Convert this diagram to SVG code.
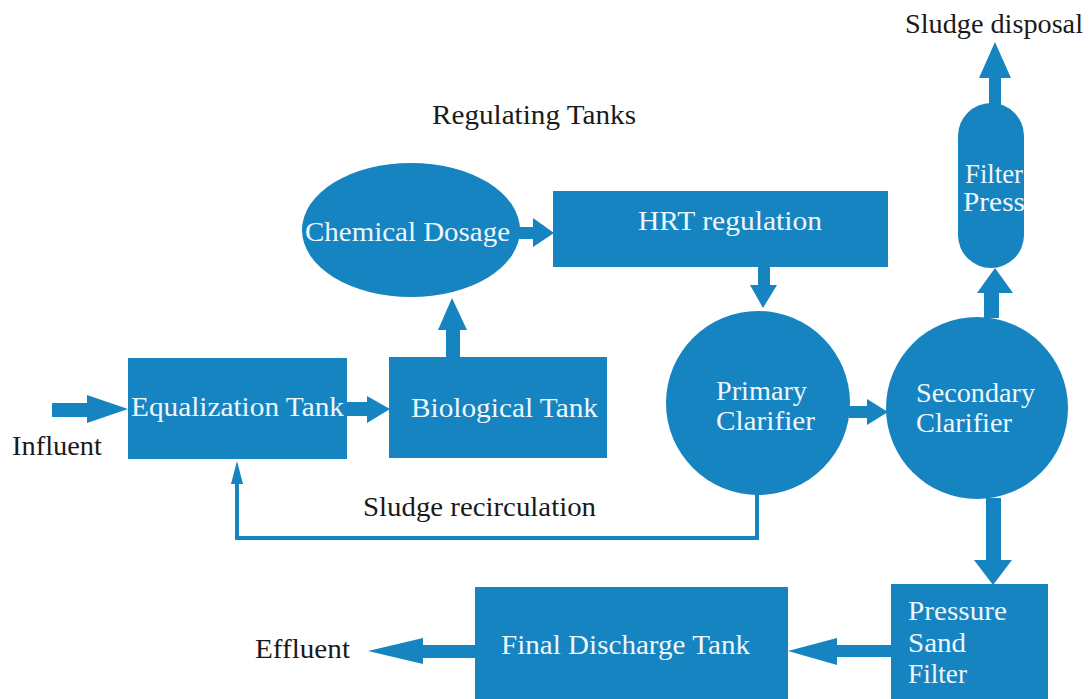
<svg xmlns="http://www.w3.org/2000/svg" width="1089" height="699" viewBox="0 0 1089 699">
<style>
.n{fill:#1684c1}
.a{fill:#1684c1}
.t{font-family:"Liberation Serif",Tinos,"DejaVu Serif","Noto Serif",serif;font-size:27px}
.w{fill:#eef7fb}
.b{fill:#1a1a1a}
.l{fill:none;stroke:#1684c1;stroke-width:4}
</style>
<rect width="1089" height="699" fill="#ffffff"/>
<g id="connectors">
<polygon class="a" points="52,403 87,403 87,395 128,409 87,423 87,417 52,417"/>
<polygon class="a" points="347,402 367,402 367,396 390,409 367,423 367,416 347,416"/>
<polygon class="a" points="446,357 446,330 438,330 452,298 467,330 460,330 460,357"/>
<polygon class="a" points="518,227 533,227 533,218 554,233 533,247 533,239 518,239"/>
<polygon class="a" points="758,267 770,267 770,285 777,285 763,308 750,285 758,285"/>
<polygon class="a" points="849,406 867,406 867,399 888,412 867,425 867,418 849,418"/>
<polygon class="a" points="984,318 984,293 977,293 995,268 1013,293 999,293 999,318"/>
<polygon class="a" points="989,106 989,78 979,78 995,42 1011,78 1001,78 1001,106"/>
<polygon class="a" points="986,498 1001,498 1001,560 1012,560 993,585 974,560 986,560"/>
<polygon class="a" points="892,645 837,645 837,638 788,651 837,665 837,657 892,657"/>
<polygon class="a" points="476,645 423,645 423,638 368,651 423,664 423,658 476,658"/>
<polyline class="l" points="757,490 757,538 237,538 237,482"/>
<polygon class="a" points="237,461 243,484 231,484"/>
</g>
<g id="equalization">
<rect class="n" x="128" y="358" width="219" height="101"/>
<text class="t w" font-family="Liberation Serif, serif" x="131" y="416" textLength="213" lengthAdjust="spacingAndGlyphs">Equalization Tank</text>
</g>
<g id="biological">
<rect class="n" x="389" y="357" width="218" height="101"/>
<text class="t w" x="411" y="417" textLength="187" lengthAdjust="spacingAndGlyphs">Biological Tank</text>
</g>
<g id="chemical">
<ellipse class="n" cx="411" cy="230" rx="109" ry="67"/>
<text class="t w" x="305" y="241" textLength="205" lengthAdjust="spacingAndGlyphs">Chemical Dosage</text>
</g>
<g id="hrt">
<rect class="n" x="553" y="191" width="335" height="76"/>
<text class="t w" x="638" y="230" textLength="184" lengthAdjust="spacingAndGlyphs">HRT regulation</text>
</g>
<g id="primary">
<circle class="n" cx="758" cy="403" r="92"/>
<text class="t w" x="716" y="400" textLength="91" lengthAdjust="spacingAndGlyphs">Primary</text>
<text class="t w" x="716" y="430" textLength="99" lengthAdjust="spacingAndGlyphs">Clarifier</text>
</g>
<g id="secondary">
<circle class="n" cx="977" cy="408" r="91"/>
<text class="t w" x="916" y="402" textLength="119" lengthAdjust="spacingAndGlyphs">Secondary</text>
<text class="t w" x="916" y="432" textLength="96" lengthAdjust="spacingAndGlyphs">Clarifier</text>
</g>
<g id="filterpress">
<rect class="n" x="958" y="103" width="66" height="165" rx="33" ry="33"/>
<text class="t w" x="965" y="183" textLength="58" lengthAdjust="spacingAndGlyphs">Filter</text>
<text class="t w" x="963" y="211" textLength="62" lengthAdjust="spacingAndGlyphs">Press</text>
</g>
<g id="psf">
<rect class="n" x="891" y="584" width="157" height="115"/>
<text class="t w" x="908" y="620" textLength="99" lengthAdjust="spacingAndGlyphs">Pressure</text>
<text class="t w" x="908" y="652" textLength="58" lengthAdjust="spacingAndGlyphs">Sand</text>
<text class="t w" x="908" y="683" textLength="59" lengthAdjust="spacingAndGlyphs">Filter</text>
</g>
<g id="fdt">
<rect class="n" x="475" y="587" width="313" height="112"/>
<text class="t w" x="501" y="654" textLength="249" lengthAdjust="spacingAndGlyphs">Final Discharge Tank</text>
</g>
<g id="labels">
<text class="t b" x="905" y="33" textLength="178" lengthAdjust="spacingAndGlyphs">Sludge disposal</text>
<text class="t b" x="432" y="124" textLength="204" lengthAdjust="spacingAndGlyphs">Regulating Tanks</text>
<text class="t b" x="12" y="455" textLength="90" lengthAdjust="spacingAndGlyphs">Influent</text>
<text class="t b" x="363" y="516" textLength="233" lengthAdjust="spacingAndGlyphs">Sludge recirculation</text>
<text class="t b" x="255" y="658" textLength="95" lengthAdjust="spacingAndGlyphs">Effluent</text>
</g>
</svg>
